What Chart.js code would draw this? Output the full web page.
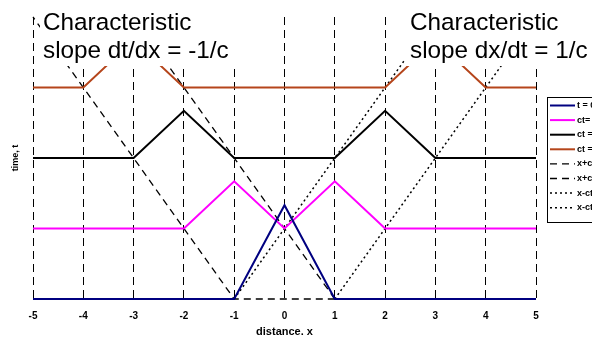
<!DOCTYPE html>
<html>
<head>
<meta charset="utf-8">
<script src="https://cdn.jsdelivr.net/npm/chart.js@4.4.0/dist/chart.umd.min.js"></script>
<style>
  body { margin: 0; background: #fff; }
  #wrap { width: 592px; height: 339px; position: relative; }
</style>
</head>
<body>
<div id="wrap"><canvas id="grafico"></canvas></div>
<script>
// distance values (x) and time values (t) for each curve
const xTicks = [-5, -4, -3, -2, -1, 0, 1, 2, 3, 4, 5];

const xT0 = [-5, -1, 0, 1, 5];
const tT0 = [0, 0, 1.33, 0, 0];

const xCt1 = [-5, -2, -1, 0, 1, 2, 5];
const tCt1 = [1, 1, 1.67, 1, 1.67, 1, 1];

const xCt2 = [-5, -3, -2, -1, 1, 2, 3, 5];
const tCt2 = [2, 2, 2.67, 2, 2, 2.67, 2, 2];

const xCt3 = [-5, -4, -3, -2, 2, 3, 4, 5];
const tCt3 = [3, 3, 3.67, 3, 3, 3.67, 3, 3];

// characteristics
const xPlusA = [1, -1, -5];
const tPlusA = [0, 0, 4];
const xPlusB = [1, -3];
const tPlusB = [0, 4];
const xMinusA = [-1, 3];
const tMinusA = [0, 4];
const xMinusB = [1, 5];
const tMinusB = [0, 4];

const labels = ['t = 0', 'ct= 1', 'ct = 2', 'ct = 3', 'x+ct=-1', 'x+ct=1', 'x-ct=-1', 'x-ct=1'];

function pontos(xs, ts) {
    return xs.map((x, i) => ({ x: x, y: ts[i] }));
}

function serie(label, xs, ts, cor, largura, traco) {
    return {
        label: label,
        data: pontos(xs, ts),
        showLine: true,
        borderColor: cor,
        backgroundColor: cor,
        borderWidth: largura,
        borderDash: traco,
        pointRadius: 0,
        fill: false,
        clip: false
    };
}

const caixasTexto = {
    id: 'caixasTexto',
    afterDraw(chart) {
        const ctx = chart.ctx;
        ctx.save();
        ctx.fillStyle = '#fff';
        ctx.fillRect(40, 0, 210, 66);
        ctx.fillRect(405, 0, 187, 66);
        ctx.fillStyle = '#000';
        ctx.font = '24.3px "Liberation Sans", Arial, sans-serif';
        ctx.textBaseline = 'alphabetic';
        ctx.fillText('Characteristic', 43, 30);
        ctx.fillText('slope dt/dx = -1/c', 43, 58);
        ctx.fillText('Characteristic', 410, 30);
        ctx.fillText('slope dx/dt = 1/c', 410, 58);

        // legend box
        const lx = 547, ly = 97;
        ctx.fillStyle = '#fff';
        ctx.fillRect(lx, ly, 60, 125);
        ctx.strokeStyle = '#000';
        ctx.lineWidth = 1;
        ctx.setLineDash([]);
        ctx.strokeRect(lx + 0.5, ly + 0.5, 60, 125);
        ctx.font = 'bold 9px "Liberation Sans", Arial, sans-serif';
        ctx.textBaseline = 'middle';
        chart.data.datasets.forEach((ds, i) => {
            const y = 105.5 + i * 14.6;
            ctx.strokeStyle = ds.borderColor;
            ctx.lineWidth = ds.borderWidth;
            ctx.setLineDash(ds.borderDash || []);
            ctx.beginPath();
            ctx.moveTo(550, y);
            ctx.lineTo(575, y);
            ctx.stroke();
            ctx.fillStyle = '#000';
            ctx.fillText(ds.label, 577, y);
        });
        ctx.restore();
    }
};

const ctx = document.getElementById('grafico').getContext('2d');

window.meuGrafico = new Chart(ctx, {
    type: 'scatter',
    data: {
        datasets: [
            serie(labels[0], xT0, tT0, '#000080', 2, []),
            serie(labels[1], xCt1, tCt1, '#ff00ff', 2, []),
            serie(labels[2], xCt2, tCt2, '#000000', 2, []),
            serie(labels[3], xCt3, tCt3, '#b5451b', 2, []),
            serie(labels[4], xPlusA, tPlusA, '#000000', 1.3, [7, 5]),
            serie(labels[5], xPlusB, tPlusB, '#000000', 1.3, [7, 5]),
            serie(labels[6], xMinusA, tMinusA, '#000000', 1.5, [2, 3]),
            serie(labels[7], xMinusB, tMinusB, '#000000', 1.5, [2, 3])
        ]
    },
    options: {
        responsive: true,
        maintainAspectRatio: false,
        animation: false,
        layout: { padding: { top: 17, right: 56, left: 0, bottom: 0 } },
        plugins: {
            legend: { display: false },
            tooltip: { enabled: false }
        },
        scales: {
            x: {
                type: 'linear',
                min: -5,
                max: 5,
                afterBuildTicks: (scale) => {
                    scale.ticks = xTicks.map(v => ({ value: v }));
                },
                afterFit: (scale) => { scale.height = 40; },
                ticks: {
                    color: '#000',
                    padding: 11,
                    maxRotation: 0,
                    font: { family: 'Liberation Sans', size: 10, weight: 'bold' }
                },
                grid: { color: '#000', lineWidth: 1, drawTicks: false },
                border: { display: false, dash: [8, 5] },
                title: {
                    display: true,
                    text: 'distance. x',
                    color: '#000',
                    padding: { top: 0, bottom: 0 },
                    font: { family: 'Liberation Sans', size: 11, weight: 'bold' }
                }
            },
            y: {
                min: 0,
                max: 4,
                afterFit: (scale) => { scale.width = 33; },
                ticks: { display: false },
                grid: { display: false },
                border: { display: false },
                title: {
                    display: true,
                    text: 'time, t',
                    color: '#000',
                    padding: { top: 10, bottom: 0 },
                    font: { family: 'Liberation Sans', size: 9, weight: 'bold' }
                }
            }
        }
    },
    plugins: [caixasTexto]
});
</script>
</body>
</html>
